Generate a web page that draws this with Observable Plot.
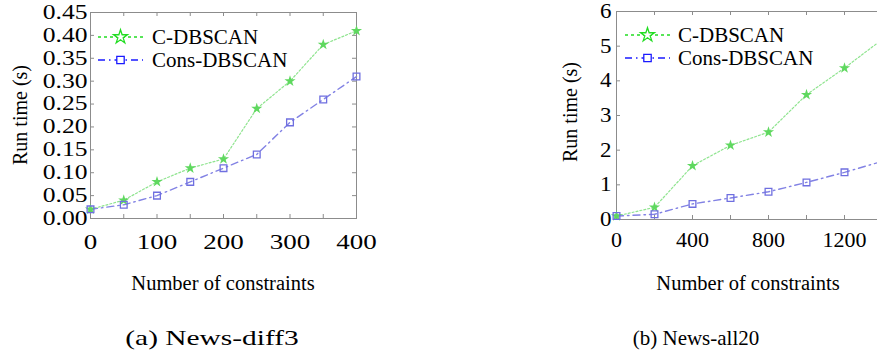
<!DOCTYPE html>
<html><head><meta charset="utf-8">
<script src="https://cdn.jsdelivr.net/npm/d3@7"></script>
<script src="https://cdn.jsdelivr.net/npm/@observablehq/plot@0.6"></script>
<style>
html,body{margin:0;padding:0;background:#fff;overflow:hidden;}
#wrap{position:relative;width:877px;height:351px;overflow:hidden;font-family:"Liberation Serif","Times New Roman",serif;color:#000;background:#fff;}
#wrap svg text{font-family:"Liberation Serif","Times New Roman",serif !important;}
.abs{position:absolute;white-space:nowrap;line-height:1;font-family:"Liberation Serif","Times New Roman",serif;}
svg{position:absolute;top:0;}
</style></head><body><div id="wrap"></div>
<script>
// ---- data ----
const seriesNames = ["C-DBSCAN", "Cons-DBSCAN"];
const xTitle = "Number of constraints";
const yTitle = "Run time (s)";
const captions = ["(a) News-diff3", "(b) News-all20"];

const leftX = [0, 50, 100, 150, 200, 250, 300, 350, 400];
const leftC = [0.02, 0.04, 0.08, 0.11, 0.13, 0.24, 0.30, 0.38, 0.41];
const leftCons = [0.02, 0.03, 0.05, 0.08, 0.11, 0.14, 0.21, 0.26, 0.31];
const leftXTicks = [0, 50, 100, 150, 200, 250, 300, 350, 400];
const leftXLabels = [0, 100, 200, 300, 400];
const leftYTicks = [0, 0.05, 0.10, 0.15, 0.20, 0.25, 0.30, 0.35, 0.40, 0.45];

const rightX = [0, 200, 400, 600, 800, 1000, 1200, 1400];
const rightC = [0.10, 0.35, 1.55, 2.14, 2.52, 3.60, 4.37, 5.20];
const rightCons = [0.10, 0.15, 0.45, 0.62, 0.80, 1.07, 1.36, 1.68];
const rightXTicks = [0, 200, 400, 600, 800, 1000, 1200, 1400, 1600];
const rightXLabels = [0, 400, 800, 1200];
const rightYTicks = [0, 1, 2, 3, 4, 5, 6];

const wrap = document.getElementById("wrap");
const greenLine = "#8fe48f", greenDot = "#5fd85f";
const blueLine = "#8282e4", blueDot = "#6f6fe0";
const axisGray = "#8c8c8c";

function scaleLabels(svg, sel, sx) {
  svg.querySelectorAll(sel).forEach(t => {
    const tr = t.getAttribute("transform");
    if (tr) t.setAttribute("transform", tr + ` scale(${sx},1)`);
    else {
      const x = +t.getAttribute("x") || 0, y = +t.getAttribute("y") || 0;
      t.removeAttribute("x"); t.removeAttribute("y");
      t.setAttribute("transform", `translate(${x},${y}) scale(${sx},1)`);
    }
  });
}

function panel(o) {
  const rows = o.xs.map((x, i) => ({x, c: o.c[i], cons: o.cons[i]}));
  const W = o.width - o.mL - o.mR, H = o.height - o.mT - o.mB;
  const svg = Plot.plot({
    width: o.width, height: o.height,
    marginLeft: o.mL, marginTop: o.mT, marginRight: o.mR, marginBottom: o.mB,
    x: {domain: o.xDomain}, y: {domain: o.yDomain},
    style: {fontFamily: "Liberation Serif", fontSize: "20px", background: "transparent", color: "#000", overflow: "visible"},
    marks: [
      Plot.tickX(o.xTicks, {x: d => d, stroke: axisGray, insetTop: H - 4}),
      Plot.tickX(o.xTicks, {x: d => d, stroke: axisGray, insetBottom: H - 4}),
      Plot.tickY(o.yTicks, {y: d => d, stroke: axisGray, insetRight: W - 4}),
      Plot.tickY(o.yTicks, {y: d => d, stroke: axisGray, insetLeft: W - 4}),
      Plot.frame({stroke: axisGray}),
      Plot.axisX(o.xLabels, {tickSize: 0, tickPadding: o.xPad, tickFormat: d3.format("d"), label: null, fill: "#000"}),
      Plot.axisY(o.yTicks, {tickSize: 0, tickPadding: o.yPad, tickFormat: o.yFmt, label: null, fill: "#000"}),
      Plot.line(rows, {x: "x", y: "c", stroke: greenLine, strokeWidth: 1.2, strokeDasharray: "2,2"}),
      Plot.line(rows, {x: "x", y: "cons", stroke: blueLine, strokeWidth: 1.4, strokeDasharray: "7,4,1.5,4"}),
      Plot.dot(rows, {x: "x", y: "c", symbol: "star", fill: greenDot, r: 3.5}),
      Plot.dot(rows, {x: "x", y: "cons", symbol: "square", stroke: blueDot, fill: "none", r: 3.8, strokeWidth: 1.3})
    ]
  });
  svg.style.left = o.left + "px";
  scaleLabels(svg, 'g[aria-label="x-axis tick label"] text', o.sxX);
  scaleLabels(svg, 'g[aria-label="y-axis tick label"] text', o.sxY);
  wrap.appendChild(svg);
}

function text(str, cx, cy, size, extra = "") {
  const d = document.createElement("div");
  d.className = "abs";
  d.textContent = str;
  d.style.left = cx + "px"; d.style.top = cy + "px";
  d.style.fontSize = size + "px";
  d.style.transform = "translate(-50%,-50%) " + extra;
  wrap.appendChild(d);
}

function legend(x0, x1, ys, tx) {
  const ns = "http://www.w3.org/2000/svg";
  const s = document.createElementNS(ns, "svg");
  s.setAttribute("width", 877); s.setAttribute("height", 351);
  s.style.left = "0px"; s.style.pointerEvents = "none";
  const mid = (x0 + x1) / 2;
  const specs = [
    {stroke: "#22dd22", dash: "3,3", sym: "star"},
    {stroke: "#1a1aff", dash: "7,4,1.5,4", sym: "square"}
  ];
  specs.forEach((sp, i) => {
    const y = ys[i];
    const l = document.createElementNS(ns, "line");
    l.setAttribute("x1", x0); l.setAttribute("x2", x1); l.setAttribute("y1", y); l.setAttribute("y2", y);
    l.setAttribute("stroke", sp.stroke); l.setAttribute("stroke-width", 1.3); l.setAttribute("stroke-dasharray", sp.dash);
    s.appendChild(l);
    const p = document.createElementNS(ns, "path");
    const sym = sp.sym === "star" ? d3.symbol(d3.symbolStar, 60) : d3.symbol(d3.symbolSquare, 55);
    p.setAttribute("d", sym());
    p.setAttribute("transform", `translate(${mid},${y})`);
    p.setAttribute("fill", "#fff"); p.setAttribute("stroke", sp.stroke); p.setAttribute("stroke-width", 1.3);
    s.appendChild(p);
    const d = document.createElement("div");
    d.className = "abs"; d.textContent = seriesNames[i];
    d.style.left = tx + "px"; d.style.top = y + "px"; d.style.fontSize = "21px";
    d.style.transform = "translateY(-50%)";
    wrap.appendChild(d);
  });
  wrap.appendChild(s);
}

panel({left: 0, width: 390, height: 270, mL: 90, mT: 12, mR: 34, mB: 52,
  xDomain: [0, 400], yDomain: [0, 0.45], xs: leftX, c: leftC, cons: leftCons,
  xTicks: leftXTicks, xLabels: leftXLabels, yTicks: leftYTicks, yFmt: d3.format(".2f"),
  xPad: 16, yPad: 3, sxX: 1.35, sxY: 1.28});

panel({left: 530, width: 420, height: 270, mL: 86, mT: 11, mR: 30, mB: 51,
  xDomain: [0, 1600], yDomain: [0, 6], xs: rightX, c: rightC, cons: rightCons,
  xTicks: rightXTicks, xLabels: rightXLabels, yTicks: rightYTicks, yFmt: d3.format("d"),
  xPad: 13, yPad: 5, sxX: 1.1, sxY: 1.15});

legend(98, 143, [37, 60], 152);
legend(625, 670, [35, 58], 678);

text(yTitle, 19.5, 115, 20, "rotate(-90deg)");
text(yTitle, 570, 112, 20, "rotate(-90deg)");
text(xTitle, 223, 283, 20.5);
text(xTitle, 748, 283, 20.5);
text(captions[0], 212, 338, 21, "scaleX(1.4)");
text(captions[1], 696, 338, 21);
</script></body></html>
